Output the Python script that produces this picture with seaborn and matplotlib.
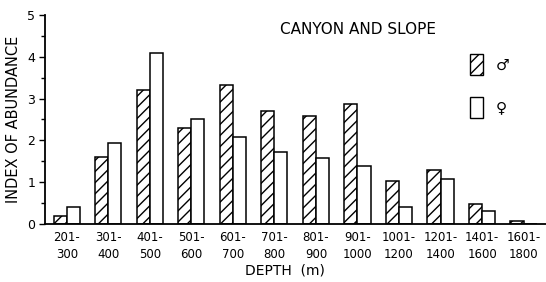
import matplotlib
matplotlib.use("Agg")
import matplotlib.pyplot as plt
import seaborn as sns
import pandas as pd
from matplotlib.patches import Patch
from matplotlib.ticker import MultipleLocator

depth_labels = ["201-\n300", "301-\n400", "401-\n500", "501-\n600", "601-\n700",
                "701-\n800", "801-\n900", "901-\n1000", "1001-\n1200", "1201-\n1400",
                "1401-\n1600", "1601-\n1800"]
male = [0.2, 1.6, 3.2, 2.3, 3.32, 2.71, 2.59, 2.88, 1.02, 1.3, 0.48, 0.08]
female = [0.4, 1.93, 4.1, 2.5, 2.09, 1.71, 1.57, 1.38, 0.4, 1.08, 0.32, 0.0]
sexes = ["♂", "♀"]

df = pd.DataFrame({
    "depth": depth_labels * 2,
    "value": male + female,
    "sex": [sexes[0]] * len(male) + [sexes[1]] * len(female),
})

sns.set_style("ticks")
plt.rcParams["font.family"] = ["DejaVu Sans"]
plt.rcParams["hatch.linewidth"] = 1.0
for k in ["text.color", "axes.labelcolor", "xtick.color", "ytick.color", "axes.edgecolor"]:
    plt.rcParams[k] = "black"

fig = plt.figure(figsize=(5.46, 2.82), dpi=100)
ax = fig.add_axes([0.082, 0.206, 0.918, 0.741])

sns.barplot(data=df, x="depth", y="value", hue="sex", order=depth_labels,
            hue_order=sexes, palette=["white", "white"], edgecolor="black",
            linewidth=1.1, width=0.63, ax=ax, legend=False)

for bar in ax.containers[0]:
    bar.set_hatch("///")

ax.set_ylim(0, 5)
ax.set_xlim(-0.53, 11.54)
ax.yaxis.set_major_locator(MultipleLocator(1))
ax.yaxis.set_minor_locator(MultipleLocator(0.5))
ax.tick_params(axis="y", which="major", length=4, width=1, labelsize=9, pad=3)
ax.tick_params(axis="y", which="minor", length=3, width=1)
ax.tick_params(axis="x", length=0, labelsize=8.5, pad=5)
for lab in ax.get_xticklabels():
    lab.set_linespacing(1.45)
ax.spines["right"].set_visible(False)
ax.spines["top"].set_visible(False)
ax.spines["left"].set_linewidth(1.3)
ax.spines["bottom"].set_linewidth(1.3)

ax.set_ylabel("INDEX OF ABUNDANCE", fontsize=10.5)
ax.yaxis.set_label_coords(-0.048, 0.5)
ax.set_xlabel("DEPTH  (m)", fontsize=10)
ax.xaxis.set_label_coords(0.48, -0.19)

ax.text(0.624, 0.928, "CANYON AND SLOPE", transform=ax.transAxes, ha="center",
        va="center", fontsize=11)

handles = [Patch(facecolor="white", edgecolor="black", hatch="///", label=sexes[0]),
           Patch(facecolor="white", edgecolor="black", label=sexes[1])]
ax.legend(handles=handles, loc="upper left", bbox_to_anchor=(0.834, 0.848),
          frameon=False, fontsize=11, handlelength=0.85, handleheight=1.7,
          labelspacing=1.44, handletextpad=0.8, borderpad=0)

fig.savefig("out.png", dpi=100)
